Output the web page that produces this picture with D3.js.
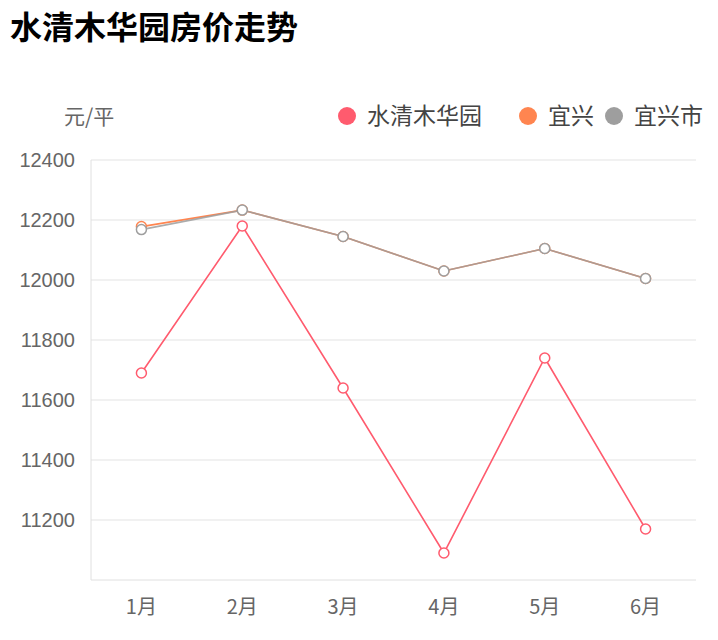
<!DOCTYPE html>
<html><head><meta charset="utf-8">
<script src="https://cdn.jsdelivr.net/npm/d3@7/dist/d3.min.js"></script>
<style>body{margin:0;background:#fff;font-family:"Noto Sans CJK SC","Liberation Sans",sans-serif;}</style>
</head><body><div id="chart"></div>
<script>
var chart_width = 718;
var chart_height = 640;

var months = ["1月", "2月", "3月", "4月", "5月", "6月"];
var yTicks = [11200, 11400, 11600, 11800, 12000, 12200, 12400];
var seriesNames = ["水清木华园", "宜兴", "宜兴市"];
var seriesColors = ["#ff5b6e", "#ff8550", "#9e9e9e"];
var shuiqing = [11690, 12180, 11640, 11090, 11740, 11170];
var yixing = [12178, 12233, 12145, 12030, 12105, 12005];
var yixingshi = [12168, 12233, 12145, 12030, 12105, 12005];
var allSeries = [shuiqing, yixing, yixingshi];

var svg = d3.select("#chart").append("svg")
  .attr("width", chart_width).attr("height", chart_height);

svg.append("text").attr("x", 10).attr("y", 39)
  .style("font-size", "32px").style("font-weight", "bold").attr("fill", "#000")
  .text("水清木华园房价走势");

var x = d3.scaleBand().domain(months).range([91, 696]);
var y = d3.scaleLinear().domain([11000, 12400]).range([580, 160]);

// grid
svg.append("g").selectAll("line").data(yTicks).enter().append("line")
  .attr("x1", 91).attr("x2", 696)
  .attr("y1", function(d){ return y(d); }).attr("y2", function(d){ return y(d); })
  .attr("stroke", "#e3e3e3");
svg.append("line").attr("x1", 91).attr("x2", 91).attr("y1", 160).attr("y2", 580).attr("stroke", "#e0e0e0");
svg.append("line").attr("x1", 91).attr("x2", 696).attr("y1", 580).attr("y2", 580).attr("stroke", "#e0e0e0");

svg.append("g").selectAll("text").data(yTicks).enter().append("text")
  .attr("x", 75).attr("y", function(d){ return y(d) + 7; })
  .attr("text-anchor", "end").attr("fill", "#666").style("font-size", "20px")
  .style("font-family", "Liberation Sans, sans-serif")
  .text(function(d){ return d; });

svg.append("g").selectAll("text").data(months).enter().append("text")
  .attr("x", function(d){ return x(d) + x.bandwidth() / 2; }).attr("y", 614)
  .attr("text-anchor", "middle").attr("fill", "#666").style("font-size", "20px")
  .text(function(d){ return d; });

svg.append("text").attr("x", 64).attr("y", 124).attr("fill", "#666")
  .style("font-size", "21px").text("元/平");

// legend
var legendX = [347, 528, 614];
seriesNames.forEach(function(name, i){
  svg.append("circle").attr("cx", legendX[i]).attr("cy", 116).attr("r", 9).attr("fill", seriesColors[i]);
  svg.append("text").attr("x", legendX[i] + 20).attr("y", 124).attr("fill", "#444")
    .style("font-size", "23px").text(name);
});

var line = d3.line()
  .x(function(d, i){ return x(months[i]) + x.bandwidth() / 2; })
  .y(function(d){ return y(d); });

allSeries.forEach(function(data, k){
  var g = svg.append("g");
  g.append("path").attr("d", line(data)).attr("fill", "none")
    .attr("stroke", seriesColors[k]).attr("stroke-width", 1.6).attr("opacity", k == 2 ? 0.85 : 1);
  g.selectAll("circle").data(data).enter().append("circle")
    .attr("cx", function(d, i){ return x(months[i]) + x.bandwidth() / 2; })
    .attr("cy", function(d){ return y(d); })
    .attr("r", 5).attr("fill", "#fff").attr("stroke", seriesColors[k]).attr("stroke-width", 1.5);
});
</script>
</body></html>
